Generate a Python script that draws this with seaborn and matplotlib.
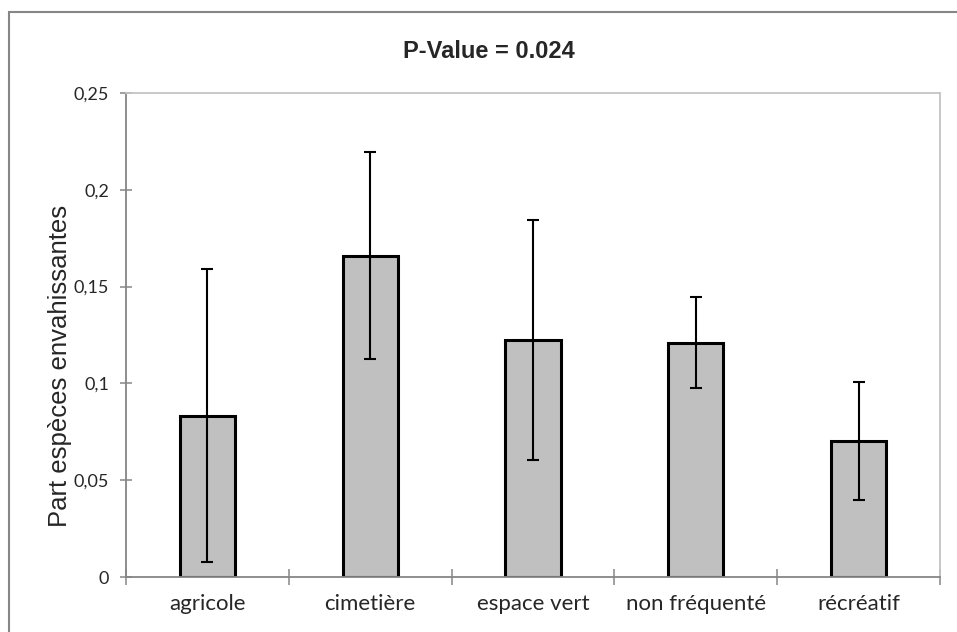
import matplotlib
matplotlib.use("Agg")
import matplotlib.pyplot as plt
import seaborn as sns
import pandas as pd
from matplotlib.patches import Rectangle

categories = ["agricole", "cimetière", "espace vert", "non fréquenté", "récréatif"]
means = [0.0833, 0.166, 0.1224, 0.1211, 0.0703]
errors = [0.0757, 0.0536, 0.0618, 0.0234, 0.0306]
yticks = [0, 0.05, 0.1, 0.15, 0.2, 0.25]
ytick_labels = ["0", "0,05", "0,1", "0,15", "0,2", "0,25"]

df = pd.DataFrame({"site": categories, "part": means, "err": errors})

sns.set_style("white")
plt.rcParams["font.family"] = ["Lato", "DejaVu Sans"]

fig = plt.figure(figsize=(9.57, 6.32), dpi=100)
ax = fig.add_axes([126 / 957, 1 - 577 / 632, (940 - 126) / 957, (577 - 93) / 632])

sns.barplot(data=df, x="site", y="part", color="#c0c0c0", edgecolor="black",
            linewidth=2.2, width=0.34, errorbar=None, saturation=1, ax=ax)
ax.errorbar(range(len(categories)), df["part"], yerr=df["err"], fmt="none",
            ecolor="black", elinewidth=1.5, capsize=4.5, capthick=1.5)

ax.set_ylim(0, 0.25)
ax.set_xlim(-0.5, len(categories) - 0.5)
ax.set_yticks(yticks)
ax.set_yticklabels(ytick_labels, fontsize=13)
ax.set_xticks(range(len(categories)))
ax.set_xticklabels(categories, fontsize=16)
ax.tick_params(axis="x", length=0, pad=12)
ax.tick_params(axis="y", direction="inout", length=8, width=1.1, color="#868686", pad=8, left=True)
ax.set_xticks([i - 0.5 for i in range(len(categories) + 1)], minor=True)
ax.tick_params(axis="x", which="minor", direction="inout", length=11, width=1.1,
               color="#868686", bottom=True)
ax.set_xlabel("")
ax.set_ylabel("")

for side in ["left", "bottom"]:
    ax.spines[side].set_color("#868686")
    ax.spines[side].set_linewidth(1.3)
for side in ["top", "right"]:
    ax.spines[side].set_visible(True)
    ax.spines[side].set_color("#c4c4c4")
    ax.spines[side].set_linewidth(1.3)

fig.text(489 / 957, 1 - 52 / 632, "P-Value = 0.024", ha="center", va="center",
         fontsize=17, fontweight="bold", family="Liberation Sans")
fig.text(60 / 957, 1 - 366 / 632, "Part espèces envahissantes", ha="center", va="center",
         rotation=90, fontsize=18.5, family="Liberation Sans")

fig.patches.append(Rectangle((9 / 957, -0.1), 1.2, 1.1 - 12 / 632,
                             transform=fig.transFigure, fill=False,
                             edgecolor="#868686", linewidth=1.5))

fig.savefig("out.png", dpi=100)
